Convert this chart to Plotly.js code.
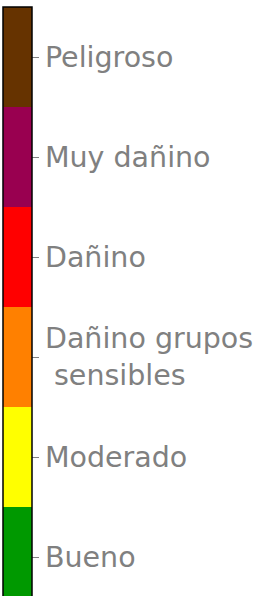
<!DOCTYPE html>
<html>
<head>
<meta charset="utf-8">
<script src="https://cdn.plot.ly/plotly-3.0.1.min.js"></script>
<style>html,body{margin:0;padding:0;background:#fff;}#chart{width:259px;height:596px;}</style>
</head>
<body>
<div id="chart"></div>
<script>
const categories = ["Bueno", "Moderado", "Dañino grupos<br> sensibles", "Dañino", "Muy dañino", "Peligroso"];
const levelValues = [0, 1, 2, 3, 4, 5];
const levelColors = ["#009900", "#ffff00", "#ff8000", "#ff0000", "#990050", "#663300"];

const n = categories.length;
const colorscale = [];
levelColors.forEach((c, i) => {
  colorscale.push([i / n, c]);
  colorscale.push([(i + 1) / n, c]);
});

const trace = {
  type: "scatter",
  mode: "markers",
  x: levelValues,
  y: levelValues,
  hoverinfo: "skip",
  marker: {
    color: levelValues,
    cmin: -0.5,
    cmax: n - 0.5,
    colorscale: colorscale,
    opacity: 0,
    size: 1,
    showscale: true,
    colorbar: {
      thickness: 29,
      thicknessmode: "pixels",
      len: 614,
      lenmode: "pixels",
      x: 0,
      xanchor: "left",
      xpad: 3,
      y: 1,
      yanchor: "top",
      ypad: 7,
      outlinewidth: 1.5,
      outlinecolor: "#000",
      tickmode: "array",
      tickvals: levelValues,
      ticktext: categories,
      ticks: "outside",
      ticklen: 7,
      tickwidth: 1,
      tickcolor: "#808080",
      tickfont: {family: "DejaVu Sans, sans-serif", size: 28.5, color: "#808080"}
    }
  }
};

const layout = {
  width: 259,
  height: 596,
  margin: {l: 0, r: 0, t: 0, b: 0},
  paper_bgcolor: "#fff",
  plot_bgcolor: "#fff",
  showlegend: false,
  xaxis: {visible: false, domain: [0.99, 1]},
  yaxis: {visible: false}
};

Plotly.newPlot("chart", [trace], layout, {displayModeBar: false, staticPlot: true});
</script>
</body>
</html>
